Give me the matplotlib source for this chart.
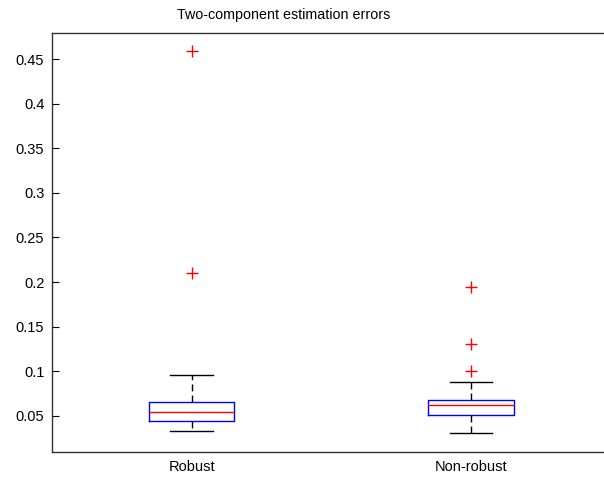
import matplotlib
matplotlib.use("Agg")
import matplotlib.pyplot as plt

plt.rcParams['font.family'] = ['Liberation Sans', 'DejaVu Sans']

# summary stats read per method
labels = ["Robust", "Non-robust"]
medians = [0.0545, 0.0623]
q1 = [0.0444, 0.0504]
q3 = [0.0650, 0.0680]
whislo = [0.0332, 0.0302]
whishi = [0.0957, 0.0878]
outliers = [[0.4588, 0.2100], [0.1941, 0.1301, 0.1002]]

stats = []
for i in range(len(labels)):
    stats.append(dict(label=labels[i], med=medians[i], q1=q1[i], q3=q3[i],
                      whislo=whislo[i], whishi=whishi[i], fliers=outliers[i]))

fig = plt.figure(figsize=(6.04, 4.78), dpi=100)
ax = fig.add_axes([0.0861, 0.055, 0.925, 0.876])

ax.bxp(stats, positions=[1, 2], widths=0.306,
       boxprops=dict(color="blue", linewidth=1.0),
       medianprops=dict(color="red", linewidth=1.0),
       whiskerprops=dict(color="black", linewidth=1.0, linestyle=(0, (5, 3))),
       capprops=dict(color="black", linewidth=1.0),
       flierprops=dict(marker="+", markeredgecolor="red", markersize=9,
                       markeredgewidth=1.0, linestyle="none"))

ax.set_xlim(0.5, 2.5)
ax.set_ylim(0.0096, 0.4795)
ax.set_yticks([0.05, 0.1, 0.15, 0.2, 0.25, 0.3, 0.35, 0.4, 0.45])
ax.set_yticklabels(["0.05", "0.1", "0.15", "0.2", "0.25", "0.3", "0.35", "0.4", "0.45"])
ax.tick_params(axis="y", direction="in", length=5, right=True, labelsize=10.5, pad=5.5)
ax.tick_params(axis="x", length=0, labelsize=10.5, pad=6)
for s in ax.spines.values():
    s.set_color("#333333")
    s.set_linewidth(1.0)

# title sits left of the axes centre (figure is clipped on the right)
ax.set_title("Two-component estimation errors", fontsize=10.3, pad=10, x=0.415)

fig.savefig("out.png", dpi=100)
